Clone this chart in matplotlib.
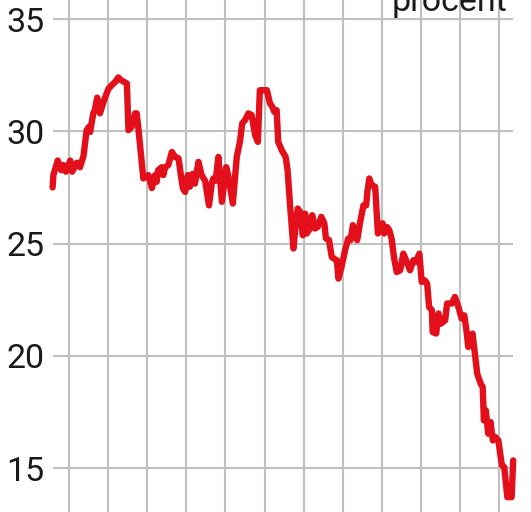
import matplotlib
matplotlib.use("Agg")
import matplotlib.pyplot as plt

# time in years (0 = first vertical gridline), share in percent
t = [-0.42, -0.40, -0.29, -0.20, -0.15, -0.08, 0.03, 0.08, 0.20, 0.28,
     0.37, 0.45, 0.51, 0.54, 0.62, 0.66, 0.72, 0.79, 0.88, 0.92,
     1.01, 1.09, 1.18, 1.26, 1.33, 1.48, 1.52, 1.60, 1.69, 1.73,
     1.77, 1.90, 2.03, 2.12, 2.20, 2.24, 2.28, 2.37, 2.41, 2.46,
     2.54, 2.63, 2.71, 2.80, 2.86, 2.91, 2.97, 3.04, 3.09, 3.16,
     3.22, 3.31, 3.39, 3.48, 3.58, 3.65, 3.69, 3.75, 3.82, 3.91,
     4.02, 4.07, 4.19, 4.29, 4.37, 4.43, 4.50, 4.59, 4.67, 4.76,
     4.83, 4.88, 5.06, 5.14, 5.20, 5.25, 5.31, 5.35, 5.44, 5.54,
     5.59, 5.65, 5.74, 5.80, 5.85, 5.91, 5.98, 6.04, 6.08, 6.16,
     6.22, 6.29, 6.36, 6.45, 6.53, 6.57, 6.65, 6.72, 6.80, 6.85,
     6.89, 6.97, 7.06, 7.14, 7.20, 7.26, 7.31, 7.37, 7.44, 7.53,
     7.60, 7.63, 7.68, 7.74, 7.83, 7.90, 7.95, 8.02, 8.06, 8.13,
     8.19, 8.25, 8.31, 8.38, 8.47, 8.55, 8.62, 8.72, 8.81, 8.87,
     8.96, 9.02, 9.10, 9.16, 9.21, 9.28, 9.30, 9.39, 9.45, 9.51,
     9.62, 9.67, 9.79, 9.87, 9.96, 10.04, 10.11, 10.17, 10.21, 10.27,
     10.32, 10.38, 10.44, 10.53, 10.58, 10.61, 10.66, 10.72, 10.78, 10.84,
     10.90, 10.98, 11.07, 11.13, 11.21, 11.32, 11.36]
procent = [27.5, 28.05, 28.7, 28.27, 28.5, 28.2, 28.7, 28.2, 28.6, 28.4,
           28.9, 30.05, 30.2, 29.97, 30.8, 30.95, 31.5, 30.8, 31.3, 31.5,
           31.9, 32.05, 32.2, 32.4, 32.28, 32.13, 30.05, 30.2, 30.8, 30.8,
           30.2, 27.9, 28.05, 27.47, 28.05, 27.75, 28.27, 28.4, 28.05, 28.4,
           28.5, 29.08, 28.86, 28.8, 28.05, 27.47, 27.3, 28.05, 27.53, 28.1,
           27.67, 28.64, 28.05, 27.8, 26.7, 27.67, 27.9, 27.8, 28.86, 26.86,
           28.4, 28.05, 26.78, 28.86, 29.53, 30.35, 30.5, 30.8, 30.72, 29.83,
           29.53, 31.83, 31.83, 31.24, 31.09, 30.87, 30.94, 29.53, 29.16, 28.86,
           28.27, 26.78, 24.78, 25.9, 26.56, 26.41, 25.37, 26.33, 25.45, 25.67,
           26.26, 25.67, 25.74, 26.19, 25.9, 25.23, 25.15, 24.4, 24.3, 24.26,
           23.44, 23.96, 24.7, 25.22, 25.15, 25.82, 25.52, 25.15, 25.9, 26.7,
           26.7, 27.3, 27.9, 27.6, 27.53, 25.45, 25.82, 25.9, 25.45, 25.74,
           25.6, 25.22, 24.4, 23.73, 23.81, 24.55, 24.26, 23.81, 24.26, 24.18,
           24.55, 23.29, 23.36, 23.21, 22.17, 22.03, 21.06, 20.99, 21.88, 21.43,
           21.58, 22.33, 22.33, 22.62, 22.17, 21.66, 21.8, 21.06, 20.39, 20.69,
           20.99, 20.1, 19.2, 18.75, 18.61, 17.12, 17.57, 16.53, 17.05, 16.23,
           16.38, 16.23, 15.12, 15.04, 13.7, 13.7, 15.34]

yticks = [15, 20, 25, 30, 35]
xgrid = list(range(12))

fig = plt.figure(figsize=(5.31, 5.12), dpi=100)
ax = fig.add_axes([53 / 531, 0, 460 / 531, 1])

ax.plot(t, procent, color='#e3101c', linewidth=4.6,
        solid_joinstyle='round', solid_capstyle='round', zorder=3, clip_on=False)

for y in yticks:
    ax.axhline(y, color='#c0c0c0', linewidth=1.5, zorder=1)
for x in xgrid:
    ax.axvline(x, color='#c0c0c0', linewidth=1.5, zorder=1)

ax.set_xlim(-0.41, 11.355)
ax.set_ylim(13.04, 35.85)
ax.set_xticks([])
ax.set_yticks(yticks)
ax.set_yticklabels([str(v) for v in yticks], family='Roboto',
                   fontsize=24.5, color='#1a1a1a')
ax.tick_params(axis='y', length=0, pad=6)
for s in ax.spines.values():
    s.set_visible(False)

fig.text(507 / 531, 1 - 11 / 512, 'procent', family='Roboto',
         fontsize=24.5, color='#1a1a1a', ha='right', va='baseline')

fig.savefig('out.png', dpi=100)
